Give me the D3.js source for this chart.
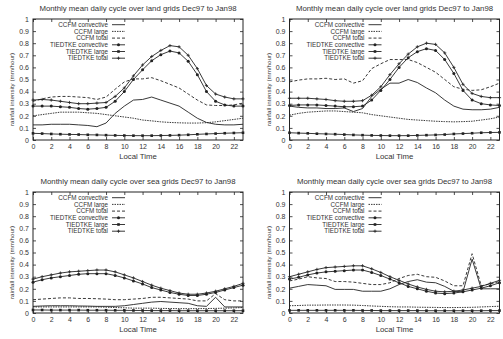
<!DOCTYPE html>
<html>
<head>
<meta charset="utf-8">
<script src="https://cdn.jsdelivr.net/npm/d3@7"></script>
<style>
  body { margin: 0; background: #fff; }
  svg { display: block; }
  text { font-family: "Liberation Sans", Arial, sans-serif; fill: #333; }
</style>
</head>
<body>
<div id="chart"></div>
<script>
// local time (hours) ----------------------------------------------------------
const hours = [0,1,2,3,4,5,6,7,8,9,10,11,12,13,14,15,16,17,18,19,20,21,22,23];
const xTicks = [0,2,4,6,8,10,12,14,16,18,20,22];
const yTicks = [0,0.1,0.2,0.3,0.4,0.5,0.6,0.7,0.8,0.9,1];
const seriesNames = ['CCFM convective','CCFM large','CCFM total','TIEDTKE convective','TIEDTKE large','TIEDTKE total'];

// land, left panel
const landA_ccfmConv  = [0.125,0.125,0.13,0.13,0.13,0.125,0.12,0.11,0.14,0.22,0.28,0.33,0.335,0.355,0.33,0.305,0.28,0.23,0.18,0.145,0.13,0.125,0.125,0.13];
const landA_ccfmLarge = [0.2,0.21,0.22,0.23,0.23,0.23,0.225,0.22,0.21,0.2,0.19,0.18,0.165,0.158,0.15,0.145,0.142,0.14,0.14,0.143,0.15,0.16,0.17,0.18];
const landA_ccfmTotal = [0.32,0.34,0.355,0.36,0.36,0.355,0.35,0.335,0.355,0.42,0.48,0.505,0.505,0.515,0.49,0.46,0.43,0.38,0.33,0.29,0.285,0.285,0.29,0.305];
const landA_tiedConv  = [0.28,0.28,0.28,0.275,0.27,0.26,0.255,0.26,0.27,0.32,0.4,0.5,0.58,0.655,0.705,0.735,0.72,0.65,0.54,0.4,0.32,0.29,0.28,0.28];
const landA_tiedLarge = [0.055,0.053,0.05,0.048,0.046,0.045,0.043,0.042,0.04,0.038,0.037,0.036,0.036,0.036,0.037,0.038,0.04,0.043,0.047,0.05,0.053,0.056,0.058,0.06];
const landA_tiedTotal = [0.33,0.335,0.33,0.32,0.31,0.3,0.3,0.305,0.31,0.36,0.43,0.53,0.62,0.69,0.74,0.78,0.77,0.7,0.59,0.45,0.38,0.355,0.34,0.34];

// land, right panel
const landB_ccfmConv  = [0.28,0.27,0.265,0.265,0.26,0.26,0.265,0.235,0.26,0.36,0.42,0.47,0.47,0.5,0.475,0.43,0.39,0.33,0.28,0.255,0.25,0.25,0.255,0.27];
const landB_ccfmLarge = [0.205,0.22,0.23,0.235,0.24,0.24,0.235,0.23,0.225,0.21,0.2,0.19,0.18,0.17,0.165,0.16,0.155,0.152,0.15,0.152,0.155,0.165,0.175,0.19];
const landB_ccfmTotal = [0.48,0.495,0.505,0.505,0.51,0.5,0.505,0.47,0.49,0.59,0.63,0.665,0.665,0.665,0.64,0.6,0.56,0.5,0.44,0.42,0.41,0.415,0.44,0.47];
const landB_tiedConv  = [0.285,0.29,0.29,0.29,0.285,0.28,0.275,0.275,0.28,0.33,0.41,0.5,0.6,0.68,0.73,0.755,0.74,0.665,0.55,0.41,0.33,0.3,0.29,0.285];
const landB_tiedLarge = [0.06,0.057,0.055,0.052,0.05,0.048,0.045,0.042,0.04,0.038,0.037,0.036,0.036,0.036,0.038,0.04,0.042,0.045,0.05,0.053,0.056,0.06,0.062,0.063];
const landB_tiedTotal = [0.345,0.345,0.345,0.34,0.335,0.325,0.32,0.32,0.325,0.37,0.44,0.54,0.63,0.71,0.77,0.8,0.79,0.72,0.6,0.46,0.385,0.36,0.35,0.35];

// sea, left panel
const seaA_ccfmConv  = [0.055,0.058,0.06,0.06,0.06,0.058,0.057,0.055,0.055,0.055,0.06,0.07,0.08,0.09,0.095,0.09,0.085,0.08,0.06,0.055,0.13,0.05,0.05,0.05];
const seaA_ccfmLarge = [0.05,0.05,0.05,0.05,0.05,0.05,0.05,0.05,0.048,0.045,0.043,0.04,0.04,0.04,0.038,0.037,0.036,0.036,0.036,0.037,0.038,0.04,0.042,0.045];
const seaA_ccfmTotal = [0.11,0.115,0.12,0.125,0.125,0.12,0.12,0.118,0.115,0.11,0.11,0.115,0.12,0.13,0.13,0.125,0.12,0.115,0.1,0.1,0.16,0.11,0.1,0.1];
const seaA_tiedConv  = [0.255,0.275,0.29,0.3,0.31,0.32,0.325,0.325,0.325,0.31,0.29,0.265,0.24,0.21,0.19,0.17,0.155,0.145,0.145,0.155,0.17,0.19,0.21,0.23];
const seaA_tiedLarge = [0.025,0.025,0.024,0.024,0.024,0.024,0.023,0.023,0.023,0.022,0.022,0.021,0.021,0.02,0.02,0.02,0.019,0.019,0.019,0.019,0.019,0.019,0.019,0.019];
const seaA_tiedTotal = [0.28,0.3,0.315,0.33,0.34,0.345,0.35,0.355,0.355,0.34,0.315,0.29,0.26,0.23,0.205,0.185,0.165,0.155,0.155,0.165,0.18,0.2,0.22,0.245];

// sea, right panel
const seaB_ccfmConv  = [0.205,0.22,0.235,0.23,0.225,0.195,0.195,0.195,0.18,0.18,0.18,0.2,0.235,0.26,0.275,0.255,0.25,0.22,0.18,0.175,0.445,0.2,0.2,0.2];
const seaB_ccfmLarge = [0.06,0.062,0.065,0.065,0.066,0.066,0.066,0.065,0.062,0.058,0.055,0.052,0.05,0.05,0.048,0.047,0.046,0.045,0.045,0.046,0.047,0.05,0.053,0.056];
const seaB_ccfmTotal = [0.265,0.28,0.3,0.29,0.285,0.26,0.26,0.255,0.245,0.235,0.235,0.25,0.285,0.31,0.32,0.3,0.295,0.265,0.225,0.225,0.49,0.225,0.24,0.26];
const seaB_tiedConv  = [0.28,0.295,0.315,0.33,0.34,0.345,0.35,0.355,0.355,0.335,0.31,0.28,0.25,0.22,0.2,0.18,0.165,0.16,0.165,0.175,0.19,0.205,0.225,0.25];
const seaB_tiedLarge = [0.022,0.022,0.022,0.022,0.022,0.022,0.022,0.022,0.021,0.021,0.02,0.02,0.02,0.02,0.02,0.019,0.019,0.019,0.019,0.019,0.019,0.019,0.02,0.02];
const seaB_tiedTotal = [0.3,0.32,0.34,0.36,0.375,0.38,0.385,0.39,0.39,0.365,0.335,0.3,0.27,0.24,0.215,0.195,0.18,0.175,0.18,0.19,0.205,0.22,0.245,0.27];

const landTitle = 'Monthly mean daily cycle over land grids Dec97 to Jan98';
const seaTitle = 'Monthly mean daily cycle over sea grids Dec97 to Jan98';

// ------------------------------------------------------------------------------
const W = 503, H = 339;
const plotW = 210, plotH = 121;
const ink = '#222';
// line style per series: dash, marker
const styles = [
  {dash: null, marker: null},
  {dash: '1.5,1', marker: null},
  {dash: '3,2', marker: null},
  {dash: null, marker: 'circle'},
  {dash: null, marker: 'square'},
  {dash: null, marker: 'plus'}
];

const panels = [
  {left: 33, top: 19, title: landTitle, series: [landA_ccfmConv, landA_ccfmLarge, landA_ccfmTotal, landA_tiedConv, landA_tiedLarge, landA_tiedTotal]},
  {left: 289.5, top: 19, title: landTitle, series: [landB_ccfmConv, landB_ccfmLarge, landB_ccfmTotal, landB_tiedConv, landB_tiedLarge, landB_tiedTotal]},
  {left: 33, top: 192, title: seaTitle, series: [seaA_ccfmConv, seaA_ccfmLarge, seaA_ccfmTotal, seaA_tiedConv, seaA_tiedLarge, seaA_tiedTotal]},
  {left: 289.5, top: 192, title: seaTitle, series: [seaB_ccfmConv, seaB_ccfmLarge, seaB_ccfmTotal, seaB_tiedConv, seaB_tiedLarge, seaB_tiedTotal]}
];

const svg = d3.select('#chart').append('svg')
  .attr('width', W)
  .attr('height', H);

// marker drawing
function drawMarker(sel, type, cx, cy) {
  if (type === 'circle') {
    sel.append('circle').attr('cx', cx).attr('cy', cy).attr('r', 1.5).attr('fill', ink);
  } else if (type === 'square') {
    sel.append('rect').attr('x', cx - 1.3).attr('y', cy - 1.3).attr('width', 2.6).attr('height', 2.6).attr('fill', ink);
  } else if (type === 'plus') {
    sel.append('path').attr('d', `M${cx - 1.6},${cy}H${cx + 1.6}M${cx},${cy - 1.6}V${cy + 1.6}`)
      .attr('stroke', ink).attr('stroke-width', 0.8);
  }
}

panels.forEach(pn => {
  const x = d3.scaleLinear().domain([0, 23]).range([pn.left, pn.left + plotW]);
  const y = d3.scaleLinear().domain([0, 1]).range([pn.top + plotH, pn.top]);
  const g = svg.append('g');

  // axes (gnuplot style: inward ticks on all four sides)
  const fmt = d => String(+d.toFixed(1));
  g.append('g').attr('transform', `translate(0,${pn.top + plotH})`)
    .call(d3.axisBottom(x).tickValues(xTicks).tickSize(-3).tickPadding(4).tickFormat(fmt));
  g.append('g').attr('transform', `translate(0,${pn.top})`)
    .call(d3.axisTop(x).tickValues(xTicks).tickSize(-3).tickFormat(''));
  g.append('g').attr('transform', `translate(${pn.left},0)`)
    .call(d3.axisLeft(y).tickValues(yTicks).tickSize(-3).tickPadding(4).tickFormat(fmt));
  g.append('g').attr('transform', `translate(${pn.left + plotW},0)`)
    .call(d3.axisRight(y).tickValues(yTicks).tickSize(-3).tickFormat(''));
  g.selectAll('.domain').remove();
  g.selectAll('.tick line').attr('stroke', ink).attr('stroke-width', 0.8);
  g.selectAll('.tick text').attr('font-size', 7).attr('fill', '#333')
    .attr('font-family', '"Liberation Sans", Arial, sans-serif');

  g.append('rect')
    .attr('x', pn.left).attr('y', pn.top)
    .attr('width', plotW).attr('height', plotH)
    .attr('fill', 'none').attr('stroke', ink).attr('stroke-width', 1);

  // series lines
  const line = d3.line().x((d, i) => x(hours[i])).y(d => y(d));
  pn.series.forEach((vals, k) => {
    const st = styles[k];
    g.append('path')
      .datum(vals)
      .attr('d', line)
      .attr('fill', 'none')
      .attr('stroke', ink)
      .attr('stroke-width', 0.9)
      .attr('stroke-dasharray', st.dash);
    if (st.marker) {
      const mg = g.append('g');
      vals.forEach((v, i) => drawMarker(mg, st.marker, x(hours[i]), y(v)));
    }
  });

  // legend
  seriesNames.forEach((name, k) => {
    const ly = pn.top + 5.7 + k * 6.7;
    const tx = pn.left + 75;
    g.append('text')
      .attr('x', tx).attr('y', ly)
      .attr('dy', '0.35em')
      .attr('text-anchor', 'end')
      .attr('font-size', 6.3)
      .text(name);
    g.append('line')
      .attr('x1', tx + 4).attr('x2', tx + 17)
      .attr('y1', ly).attr('y2', ly)
      .attr('stroke', ink).attr('stroke-width', 0.9)
      .attr('stroke-dasharray', styles[k].dash);
    if (styles[k].marker) drawMarker(g, styles[k].marker, tx + 10.5, ly);
  });

  // title and axis labels
  g.append('text')
    .attr('x', pn.left + plotW / 2).attr('y', pn.top - 8)
    .attr('text-anchor', 'middle')
    .attr('font-size', 7.8)
    .text(pn.title);
  g.append('text')
    .attr('x', pn.left + plotW / 2).attr('y', pn.top + plotH + 19)
    .attr('text-anchor', 'middle')
    .attr('font-size', 7.8)
    .text('Local Time');
  g.append('text')
    .attr('transform', `translate(${pn.left - 19},${pn.top + plotH / 2 + 10}) rotate(-90)`)
    .attr('text-anchor', 'middle')
    .attr('font-size', 6.2)
    .text('rainfall intensity (mm/hour)');
});
</script>
</body>
</html>
